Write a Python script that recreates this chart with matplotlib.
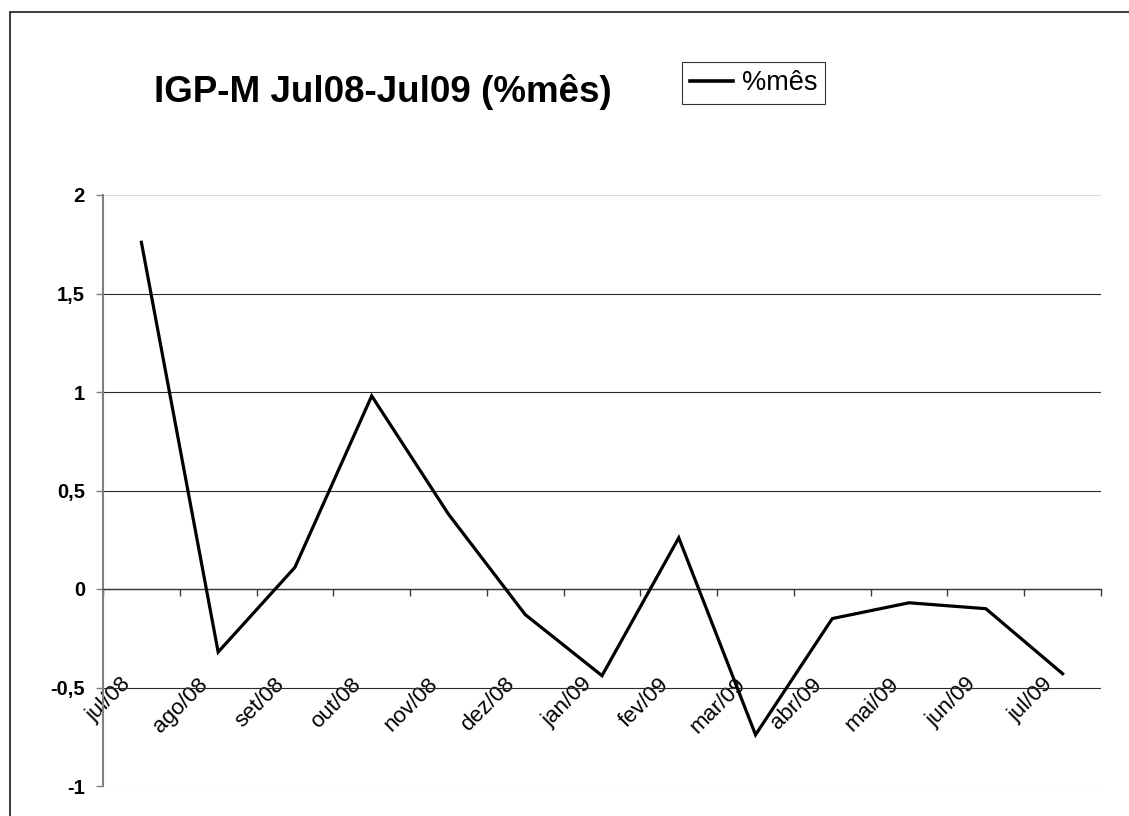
import matplotlib
matplotlib.use("Agg")
import matplotlib.pyplot as plt
from matplotlib.patches import Rectangle
from matplotlib.lines import Line2D
from matplotlib.transforms import ScaledTranslation

plt.rcParams['font.family'] = ['Liberation Sans', 'DejaVu Sans']

# Monthly IGP-M variation (% per month)
months = ['jul/08', 'ago/08', 'set/08', 'out/08', 'nov/08', 'dez/08', 'jan/09',
          'fev/09', 'mar/09', 'abr/09', 'mai/09', 'jun/09', 'jul/09']
igpm = [1.76, -0.32, 0.11, 0.98, 0.38, -0.13, -0.44, 0.26, -0.74, -0.15, -0.07, -0.10, -0.43]
y_ticks = [-1, -0.5, 0, 0.5, 1, 1.5, 2]
y_labels = ['-1', '-0,5', '0', '0,5', '1', '1,5', '2']

W, H, DPI = 1129, 816, 100
fig = plt.figure(figsize=(W / DPI, H / DPI), dpi=DPI)
fig.patch.set_facecolor('white')

ax = fig.add_axes([103 / W, 1 - 786 / H, (1101 - 103) / W, (786 - 195) / H])
x = list(range(len(months)))
ax.plot(x, igpm, color='black', lw=2.3, solid_joinstyle='miter', label='%mês', zorder=3)

ax.set_xlim(-0.5, len(months) - 0.5)
ax.set_ylim(-1, 2)

# value axis
ax.set_yticks(y_ticks)
ax.set_yticklabels(y_labels, fontsize=14.5, fontweight='bold')
ax.tick_params(axis='y', direction='out', length=5, width=1, color='#808080', pad=8)
ax.yaxis.grid(True, color='#2a2a2a', lw=0.8)
grid = ax.yaxis.get_gridlines()
grid[0].set_color('#d8d8d8')
grid[-1].set_color('#d8d8d8')
ax.set_axisbelow(True)

# category axis crossing at zero
for s in ['top', 'right']:
    ax.spines[s].set_visible(False)
ax.spines['left'].set_color('#808080')
ax.spines['left'].set_linewidth(1.5)
ax.spines['bottom'].set_position(('data', 0))
ax.spines['bottom'].set_color('#3a3a3a')
ax.spines['bottom'].set_linewidth(1.0)

ax.set_xticks([i - 0.5 for i in range(len(months) + 1)])
ax.set_xticklabels([])
ax.tick_params(axis='x', which='major', direction='out', length=5, width=1, color='#3a3a3a')
ax.set_xticks(x, minor=True)
ax.set_xticklabels(months, minor=True, fontsize=16, rotation=45, ha='right', va='top')
ax.tick_params(axis='x', which='minor', length=0, pad=61)
shift = ScaledTranslation(-6 / DPI, 0, fig.dpi_scale_trans)
for lab in ax.xaxis.get_minorticklabels():
    lab.set_transform(lab.get_transform() + shift)

# title and legend
fig.text(154 / W, 1 - 102 / H, 'IGP-M Jul08-Jul09 (%mês)', fontsize=26.5,
         fontweight='bold', ha='left', va='baseline')
leg = fig.legend(handles=[Line2D([], [], color='black', lw=2.6)], labels=['%mês'],
                 loc='upper left', bbox_to_anchor=(682 / W, 1 - 62 / H),
                 bbox_transform=fig.transFigure, fontsize=19.5, frameon=True,
                 fancybox=False, edgecolor='black', borderpad=0.3,
                 handlelength=1.6, handletextpad=0.3, borderaxespad=0)
leg.get_frame().set_linewidth(0.8)

# chart area border
fig.add_artist(Rectangle((10 / W, -0.1), 1.2, 1.1 - 12 / H, transform=fig.transFigure,
                         fill=False, edgecolor='#1a1a1a', lw=1.2))

fig.savefig('out.png', dpi=DPI)
